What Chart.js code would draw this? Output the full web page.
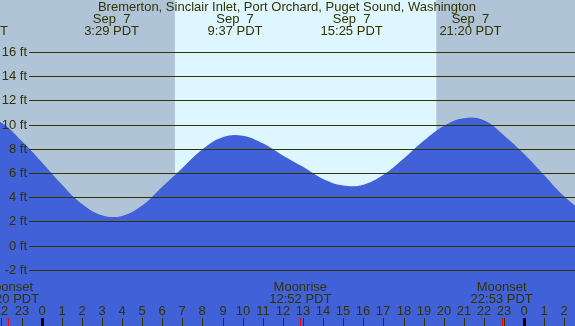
<!DOCTYPE html>
<html>
<head>
<meta charset="utf-8">
<script src="https://cdn.jsdelivr.net/npm/chart.js@4.4.0/dist/chart.umd.min.js"></script>
<style>
  body { margin: 0; background: #fff; }
  #tideCanvas { display: block; }
</style>
</head>
<body>
<canvas id="tideCanvas" width="575" height="326"></canvas>
<script>
// hourly water level, hours relative to midnight Sep 7 (negative = Sep 6)
const hours = [-4, -3, -2, -1, 0, 1, 2, 3, 4, 5, 6, 7, 8, 9, 10, 11, 12, 13, 14, 15, 16, 17, 18, 19, 20, 21, 22, 23, 24, 25, 26, 27, 28];
const feet = [10.2, 10.5, 10.15, 8.65, 6.9, 5.05, 3.45, 2.5, 2.45, 3.3, 4.85, 6.4, 7.95, 8.95, 9.08, 8.45, 7.45, 6.5, 5.5, 4.96, 5.03, 5.84, 7.17, 8.65, 9.88, 10.52, 10.35, 9.1, 7.57, 5.81, 4.05, 2.8, 2.0];

const gridFeet = [16, 14, 12, 10, 8, 6, 4, 2, 0, -2];

const tideTimes = [-3.22, 3.48, 9.62, 15.42, 21.33];
const tideDates = ["Sep  6", "Sep  7", "Sep  7", "Sep  7", "Sep  7"];
const tideLabels = ["20:47 PDT", "3:29 PDT", "9:37 PDT", "15:25 PDT", "21:20 PDT"];

const moonTimes = [-1.667, 12.867, 22.883];
const moonNames = ["Moonset", "Moonrise", "Moonset"];
const moonLabels = ["22:20 PDT", "12:52 PDT", "22:53 PDT"];

const sunrise = 6.63, sunset = 19.63;
const xMin = -2.07, xMax = 26.53;

const title = "Bremerton, Sinclair Inlet, Port Orchard, Puget Sound, Washington";
const ink = "#333300";
const font = "13px 'Liberation Sans', Arial, sans-serif";

const points = hours.map((h, i) => ({ x: h, y: feet[i] }));

const backdrop = {
    id: "backdrop",
    beforeDatasetsDraw(chart) {
        const ctx = chart.ctx, x = chart.scales.x, a = chart.chartArea;
        ctx.save();
        ctx.fillStyle = "#b0c4d8";
        ctx.fillRect(a.left, a.top, a.right - a.left, a.bottom - a.top);
        ctx.fillStyle = "#ddf6ff";
        const x1 = x.getPixelForValue(sunrise), x2 = x.getPixelForValue(sunset);
        ctx.fillRect(x1, a.top, x2 - x1, a.bottom - a.top);
        ctx.restore();
    }
};

const overlay = {
    id: "overlay",
    afterDatasetsDraw(chart) {
        const ctx = chart.ctx, x = chart.scales.x, y = chart.scales.y, a = chart.chartArea;
        ctx.save();
        ctx.font = font;
        ctx.fillStyle = ink;
        ctx.textBaseline = "middle";

        // grid lines and labels
        gridFeet.forEach(f => {
            const py = Math.round(y.getPixelForValue(f));
            ctx.fillRect(29, py, a.right - 29, 1);
            ctx.textAlign = "right";
            ctx.fillText(f + " ft", 27, py + 0.5);
        });

        // title and tide times
        ctx.textAlign = "center";
        ctx.fillText(title, 287, 7);
        tideTimes.forEach((t, i) => {
            const px = x.getPixelForValue(t);
            ctx.fillText(tideDates[i], px, 19.5);
            ctx.fillText(tideLabels[i], px, 31.5);
        });

        // moon events
        moonTimes.forEach((t, i) => {
            const px = x.getPixelForValue(t);
            ctx.fillText(moonNames[i], px, 287.5);
            ctx.fillText(moonLabels[i], px, 299);
        });

        // hour labels and ticks
        for (let h = -2; h <= 26; h++) {
            const px = Math.round(x.getPixelForValue(h));
            ctx.fillText(String((h + 24) % 24), px, 311);
            if (h % 24 === 0) {
                ctx.fillStyle = "#000";
                ctx.fillRect(px - 1, 318, 3, 8);
                ctx.fillStyle = ink;
            } else {
                ctx.fillRect(px, 318, 1, 8);
            }
        }
        ctx.fillStyle = "#ff0000";
        moonTimes.forEach(t => {
            const px = Math.round(x.getPixelForValue(t));
            ctx.fillRect(px, 318, 1, 8);
        });
        ctx.restore();
    }
};

new Chart(document.getElementById("tideCanvas"), {
    type: "line",
    data: {
        datasets: [{
            data: points,
            backgroundColor: "#4161d8",
            borderWidth: 0,
            pointRadius: 0,
            fill: "start",
            tension: 0.4
        }]
    },
    options: {
        responsive: false,
        animation: false,
        devicePixelRatio: 1,
        layout: { padding: 0 },
        plugins: { legend: { display: false }, tooltip: { enabled: false } },
        scales: {
            x: { type: "linear", min: xMin, max: xMax, display: false },
            y: { min: -6.65, max: 20.29, display: false }
        }
    },
    plugins: [backdrop, overlay]
});
</script>
</body>
</html>
